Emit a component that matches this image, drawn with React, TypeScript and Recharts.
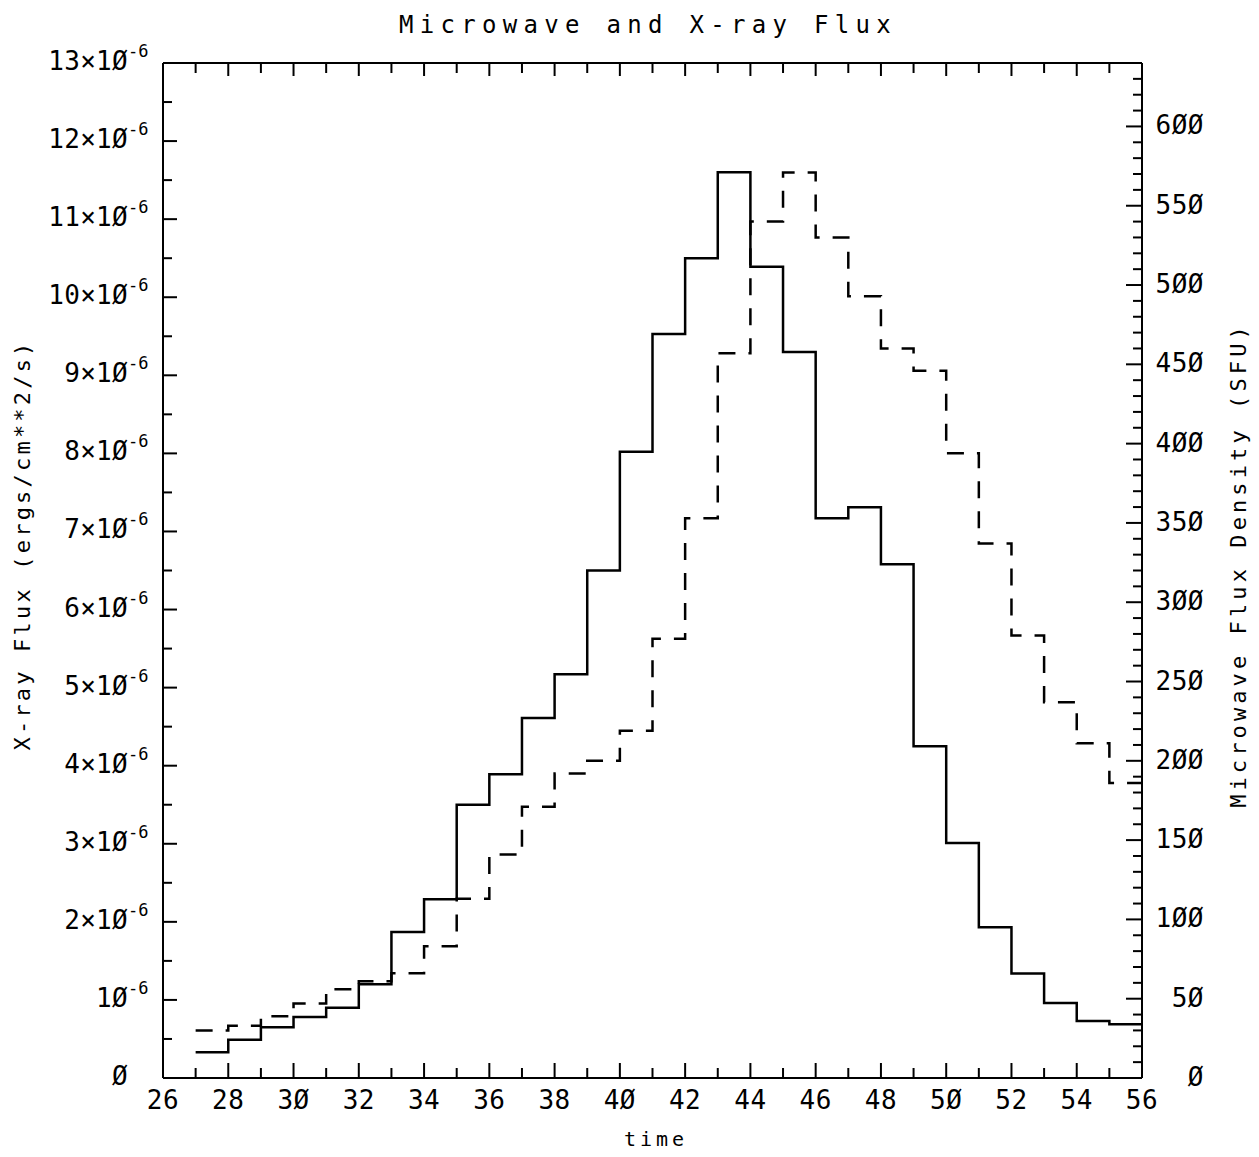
import { ComposedChart, Line, XAxis, YAxis, Label } from 'recharts'

// time bins (start of each step); the last entry closes the final step
const times = [27, 28, 29, 30, 31, 32, 33, 34, 35, 36, 37, 38, 39, 40, 41, 42, 43, 44, 45, 46, 47, 48, 49, 50, 51, 52, 53, 54, 55, 56]
// X-ray flux, in units of 1e-6 ergs/cm**2/s
const xrayFlux = [0.33, 0.49, 0.65, 0.78, 0.9, 1.2, 1.87, 2.29, 3.5, 3.89, 4.61, 5.17, 6.5, 8.02, 9.53, 10.5, 11.6, 10.39, 9.3, 7.17, 7.31, 6.58, 4.25, 3.01, 1.93, 1.34, 0.96, 0.73, 0.69, 0.69]
// microwave flux density, SFU
const microwaveFlux = [30, 33, 39, 47, 56, 61, 66, 83, 113, 141, 171, 192, 200, 219, 277, 353, 457, 540, 571, 530, 493, 460, 446, 394, 337, 279, 237, 211, 186, 186]

const timeTicks = [26, 28, 30, 32, 34, 36, 38, 40, 42, 44, 46, 48, 50, 52, 54, 56]
const xrayTicks = [0, 1, 2, 3, 4, 5, 6, 7, 8, 9, 10, 11, 12, 13]
const sfuTicks = [0, 50, 100, 150, 200, 250, 300, 350, 400, 450, 500, 550, 600]

const timeMinor = Array.from({ length: 31 }, (_, i) => 26 + i)
const xrayMinor = Array.from({ length: 27 }, (_, i) => i * 0.5)
const sfuMinor = Array.from({ length: 65 }, (_, i) => i * 10)

const data = times.map((t, i) => ({ t, xray: xrayFlux[i], mw: microwaveFlux[i] }))

const FONT = '"DejaVu Sans Mono", monospace'
const slash = (s: string) => s.replace(/0/g, 'Ø')

const BottomTick = (props: any) => {
  const { x, y, payload } = props
  const major = timeTicks.includes(payload.value)
  return (
    <g>
      <line x1={x} x2={x} y1={y} y2={y - (major ? 15 : 10)} stroke="#000" strokeWidth={2} />
      {major && (
        <text x={x} y={y + 31} textAnchor="middle" fontFamily={FONT} fontSize={26} letterSpacing={0.5} fill="#000">
          {slash(String(payload.value))}
        </text>
      )}
    </g>
  )
}

const TopTick = (props: any) => {
  const { x, y, payload } = props
  const major = timeTicks.includes(payload.value)
  return <line x1={x} x2={x} y1={y} y2={y + (major ? 13 : 10)} stroke="#000" strokeWidth={2} />
}

const LeftTick = (props: any) => {
  const { x, y, payload } = props
  const v = payload.value
  const major = xrayTicks.includes(v)
  let main = ''
  if (major) main = v === 0 ? 'Ø' : v === 1 ? '1Ø' : `${v}×1Ø`
  return (
    <g>
      <line x1={x} x2={x + (major ? 14 : 9)} y1={y} y2={y} stroke="#000" strokeWidth={2} />
      {major && (
        <text x={x - 35} y={y + 7} textAnchor="end" fontFamily={FONT} fontSize={26} letterSpacing={0.3} fill="#000">
          {main}
        </text>
      )}
      {major && v !== 0 && (
        <text x={x - 35} y={y - 6} textAnchor="start" fontFamily={FONT} fontSize={17} fill="#000">
          -6
        </text>
      )}
    </g>
  )
}

const RightTick = (props: any) => {
  const { x, y, payload } = props
  const v = payload.value
  const major = sfuTicks.includes(v)
  return (
    <g>
      <line x1={x} x2={x - (major ? 16 : 9)} y1={y} y2={y} stroke="#000" strokeWidth={2} />
      {major && (
        <text x={x + 62} y={y + 8} textAnchor="end" fontFamily={FONT} fontSize={26} letterSpacing={0.5} fill="#000">
          {slash(String(v))}
        </text>
      )}
    </g>
  )
}

export default function App() {
  return (
    <div style={{ position: 'absolute', left: 0, top: 0, background: '#fff' }}>
      <ComposedChart width={1259} height={1157} data={data} margin={{ top: 33, right: 57, bottom: 49, left: 103 }}>
        <XAxis
          dataKey="t"
          type="number"
          domain={[26, 56]}
          ticks={timeMinor}
          interval={0}
          height={30}
          tickSize={0}
          tickMargin={0}
          tickLine={false}
          tick={<BottomTick />}
          axisLine={{ stroke: '#000', strokeWidth: 2 }}
        >
          <Label
            content={() => (
              <text x={656} y={1146} textAnchor="middle" fontFamily={FONT} fontSize={20} letterSpacing={4} fill="#000">
                time
              </text>
            )}
          />
        </XAxis>
        <XAxis
          xAxisId="top"
          orientation="top"
          dataKey="t"
          type="number"
          domain={[26, 56]}
          ticks={timeMinor}
          interval={0}
          height={30}
          tickSize={0}
          tickMargin={0}
          tickLine={false}
          tick={<TopTick />}
          axisLine={{ stroke: '#000', strokeWidth: 2 }}
        >
          <Label
            content={() => (
              <text x={648} y={33} textAnchor="middle" fontFamily={FONT} fontSize={24} letterSpacing={6.3} fill="#000">
                Microwave and X-ray Flux
              </text>
            )}
          />
        </XAxis>
        <YAxis
          yAxisId="left"
          type="number"
          domain={[0, 13]}
          ticks={xrayMinor}
          interval={0}
          width={60}
          tickSize={0}
          tickMargin={0}
          tickLine={false}
          tick={<LeftTick />}
          axisLine={{ stroke: '#000', strokeWidth: 2 }}
        >
          <Label
            content={() => (
              <text
                x={22}
                y={545}
                transform="rotate(-90 22 545)"
                textAnchor="middle"
                dominantBaseline="central"
                fontFamily={FONT}
                fontSize={22}
                letterSpacing={3.2}
                fill="#000"
              >
                X-ray Flux (ergs/cm**2/s)
              </text>
            )}
          />
        </YAxis>
        <YAxis
          yAxisId="right"
          orientation="right"
          type="number"
          domain={[0, 640]}
          ticks={sfuMinor}
          interval={0}
          width={60}
          tickSize={0}
          tickMargin={0}
          tickLine={false}
          tick={<RightTick />}
          axisLine={{ stroke: '#000', strokeWidth: 2 }}
        >
          <Label
            content={() => (
              <text
                x={1238}
                y={565}
                transform="rotate(-90 1238 565)"
                textAnchor="middle"
                dominantBaseline="central"
                fontFamily={FONT}
                fontSize={22}
                letterSpacing={4.1}
                fill="#000"
              >
                Microwave Flux Density (SFU)
              </text>
            )}
          />
        </YAxis>
        <Line
          yAxisId="left"
          type="stepAfter"
          dataKey="xray"
          stroke="#000"
          strokeWidth={2.5}
          dot={false}
          activeDot={false}
          isAnimationActive={false}
        />
        <Line
          yAxisId="right"
          type="stepAfter"
          dataKey="mw"
          stroke="#000"
          strokeWidth={2.5}
          strokeDasharray="17 13"
          dot={false}
          activeDot={false}
          isAnimationActive={false}
        />
      </ComposedChart>
    </div>
  )
}
